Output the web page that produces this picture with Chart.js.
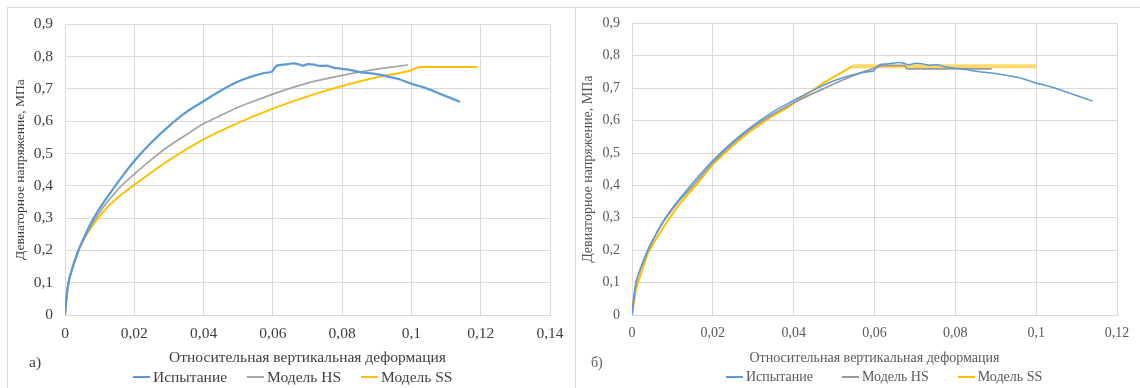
<!DOCTYPE html>
<html>
<head>
<meta charset="utf-8">
<script src="https://cdn.jsdelivr.net/npm/chart.js@4"></script>
<style>
  html, body { margin: 0; padding: 0; background: #fff; }
  body { width: 1140px; height: 388px; position: relative; overflow: hidden; font-family: "Liberation Serif", serif; }
  .panel { position: absolute; top: 7px; height: 390px; border: 1px solid #d9d9d9; box-sizing: border-box; }
  #panelA { left: 7px; width: 569px; }
  #panelB { left: 575px; width: 575px; }
  .panel canvas { position: absolute; left: 0; top: -5px; }
  .tag { position: absolute; color: #404040; }
  #tagA { left: 21px; top: 345px; font-size: 15.5px; }
  #tagB { left: 15px; top: 347px; font-size: 14px; color: #595959; }
  .legend { position: absolute; display: flex; align-items: center; white-space: nowrap; }
  .legend .item { display: flex; align-items: center; }
  .legend .swatch { display: inline-block; width: 17px; height: 2px; margin-right: 3px; }
  #legendA { left: 125px; top: 360px; font-size: 15.5px; color: #404040; }
  #legendA .item { margin-right: 20px; }
  #legendB { left: 150px; top: 361px; font-size: 14px; color: #595959; }
  #legendB .item { margin-right: 29px; }
</style>
</head>
<body>
<div class="panel" id="panelA"><canvas id="chartA" width="566" height="367"></canvas><div class="tag" id="tagA">а)</div><div class="legend" id="legendA"></div></div>
<div class="panel" id="panelB"><canvas id="chartB" width="564" height="367"></canvas><div class="tag" id="tagB">б)</div><div class="legend" id="legendB"></div></div>
<script>
// опыт (испытание), одинаковый на обоих графиках
const testStrain = [0, 0.0005, 0.001, 0.002, 0.0037, 0.0055, 0.0075, 0.0095, 0.0115, 0.014, 0.017, 0.02, 0.025, 0.03, 0.035, 0.04, 0.045, 0.05, 0.055, 0.058, 0.0597, 0.0605, 0.0612, 0.063, 0.0645, 0.0659, 0.0675, 0.0685, 0.0702, 0.072, 0.0735, 0.0755, 0.0774, 0.08, 0.0825, 0.0852, 0.089, 0.0929, 0.0965, 0.1, 0.104, 0.108, 0.111, 0.114]
const testStress = [0, 0.06, 0.1, 0.14, 0.195, 0.24, 0.285, 0.322, 0.354, 0.392, 0.436, 0.477, 0.535, 0.585, 0.628, 0.662, 0.695, 0.723, 0.742, 0.75, 0.753, 0.765, 0.772, 0.775, 0.777, 0.779, 0.776, 0.772, 0.777, 0.775, 0.771, 0.772, 0.766, 0.762, 0.758, 0.752, 0.747, 0.739, 0.73, 0.716, 0.703, 0.686, 0.673, 0.66]

// а) модели до калибровки
const hsStrainA = [0, 0.0005, 0.001, 0.002, 0.0037, 0.0055, 0.008, 0.0105, 0.013, 0.016, 0.02, 0.025, 0.03, 0.035, 0.04, 0.045, 0.05, 0.055, 0.06, 0.07, 0.08, 0.09, 0.099]
const hsStressA = [0, 0.06, 0.1, 0.14, 0.195, 0.238, 0.285, 0.326, 0.36, 0.397, 0.436, 0.482, 0.523, 0.558, 0.592, 0.618, 0.643, 0.664, 0.684, 0.718, 0.742, 0.761, 0.774]
const ssStrainA = [0, 0.0005, 0.001, 0.002, 0.0037, 0.0055, 0.0085, 0.0115, 0.0144, 0.02, 0.025, 0.03, 0.035, 0.04, 0.05, 0.06, 0.07, 0.08, 0.09, 0.1, 0.1025, 0.119]
const ssStressA = [0, 0.06, 0.1, 0.14, 0.195, 0.235, 0.285, 0.325, 0.356, 0.403, 0.442, 0.479, 0.513, 0.544, 0.595, 0.639, 0.677, 0.709, 0.736, 0.758, 0.768, 0.768]

// б) модели после калибровки
const hsStrainB = [0, 0.001, 0.002, 0.0037, 0.0055, 0.0075, 0.0095, 0.0115, 0.015, 0.02, 0.025, 0.03, 0.035, 0.04, 0.0476, 0.055, 0.06, 0.062, 0.0675, 0.068, 0.089]
const hsStressB = [0, 0.1, 0.138, 0.19, 0.238, 0.282, 0.318, 0.35, 0.398, 0.47, 0.53, 0.58, 0.62, 0.655, 0.7, 0.74, 0.762, 0.77, 0.77, 0.76, 0.76]
const ssStrainB = [0, 0.001, 0.002, 0.0039, 0.006, 0.0088, 0.011, 0.0133, 0.0165, 0.02, 0.025, 0.0296, 0.034, 0.0386, 0.0413, 0.0445, 0.0476, 0.0546, 0.1]
const ssStressB = [0, 0.08, 0.12, 0.19, 0.235, 0.29, 0.33, 0.365, 0.41, 0.465, 0.523, 0.57, 0.608, 0.641, 0.665, 0.692, 0.718, 0.768, 0.768]

const seriesNames = ["Испытание", "Модель HS", "Модель SS"]
const xTitle = "Относительная вертикальная деформация"
const yTitle = "Девиаторное напряжение, МПа"

const pts = (xs, ys) => xs.map((x, i) => ({ x: x, y: ys[i] }))
const comma = v => String(+v.toFixed(2)).replace('.', ',')

// легенда в html, чтобы выставить отступы как в Excel
function htmlLegend(chart, boxId) {
    const box = document.getElementById(boxId)
    chart.data.datasets.forEach(ds => {
        const item = document.createElement("span")
        item.className = "item"
        const sw = document.createElement("span")
        sw.className = "swatch"
        sw.style.background = ds.borderColor
        item.appendChild(sw)
        item.appendChild(document.createTextNode(ds.label))
        box.appendChild(item)
    })
}

function makeChart(id, cfg) {
    const font = { family: "Liberation Serif", size: cfg.fontSize }
    return new Chart(document.getElementById(id), {
        type: "line",
        data: {
            datasets: [
                { label: seriesNames[0], data: pts(testStrain, testStress), borderColor: "#5B9BD5", backgroundColor: "#5B9BD5", borderWidth: cfg.widths[0], cubicInterpolationMode: "monotone" },
                { label: seriesNames[1], data: cfg.hs, borderColor: cfg.hsColor, backgroundColor: cfg.hsColor, borderWidth: cfg.widths[1], cubicInterpolationMode: "monotone" },
                { label: seriesNames[2], data: cfg.ss, borderColor: "#FFC000", backgroundColor: "#FFC000", borderWidth: cfg.widths[2], segment: cfg.ssSegment, cubicInterpolationMode: cfg.ssMode },
            ],
        },
        options: {
            responsive: false,
            animation: false,
            elements: { point: { radius: 0 }, line: { tension: 0 } },
            layout: { padding: { top: 8, right: cfg.right, left: 0, bottom: 0 } },
            plugins: {
                tooltip: { enabled: false },
                legend: { display: false },
            },
            scales: {
                x: {
                    type: "linear", min: 0, max: cfg.xMax,
                    ticks: { stepSize: 0.02, padding: 10, color: cfg.textColor, font: font, callback: comma },
                    grid: { color: "#d9d9d9", drawTicks: false },
                    border: { color: "#d9d9d9" },
                    title: { display: true, text: xTitle, color: cfg.textColor, font: font, padding: { top: 4, bottom: 3 } },
                    afterFit: s => { s.height = 55 },
                },
                y: {
                    min: 0, max: 0.9,
                    ticks: { stepSize: 0.1, padding: 12, color: cfg.textColor, font: font, callback: comma },
                    grid: { color: "#d9d9d9", drawTicks: false },
                    border: { color: "#d9d9d9" },
                    title: { display: true, text: yTitle, color: cfg.textColor, font: { family: "Liberation Serif", size: cfg.yTitleSize }, padding: 4 },
                    afterFit: s => { s.width = cfg.yWidth },
                },
            },
        },
    })
}

const chartA = makeChart("chartA", {
    fontSize: 15.5, yTitleSize: 13.5, textColor: "#404040", xMax: 0.14, right: 24, yWidth: 57,
    widths: [2.25, 1.75, 2], hsColor: "#A5A5A5", ssMode: "monotone",
    hs: pts(hsStrainA, hsStressA), ss: pts(ssStrainA, ssStressA),
})
htmlLegend(chartA, "legendA")

const chartB = makeChart("chartB", {
    fontSize: 14, yTitleSize: 14, textColor: "#595959", xMax: 0.12, right: 23, yWidth: 56,
    widths: [1.5, 1.75, 2], hsColor: "#9a9a9a", ssMode: "default",
    hs: pts(hsStrainB, hsStressB), ss: pts(ssStrainB, ssStressB),
    ssSegment: { borderWidth: c => c.p0.parsed.x >= 0.054 ? 4 : 2, borderColor: c => c.p0.parsed.x >= 0.054 ? "#FFD966" : "#FFC000" },
})
htmlLegend(chartB, "legendB")
</script>
</body>
</html>
